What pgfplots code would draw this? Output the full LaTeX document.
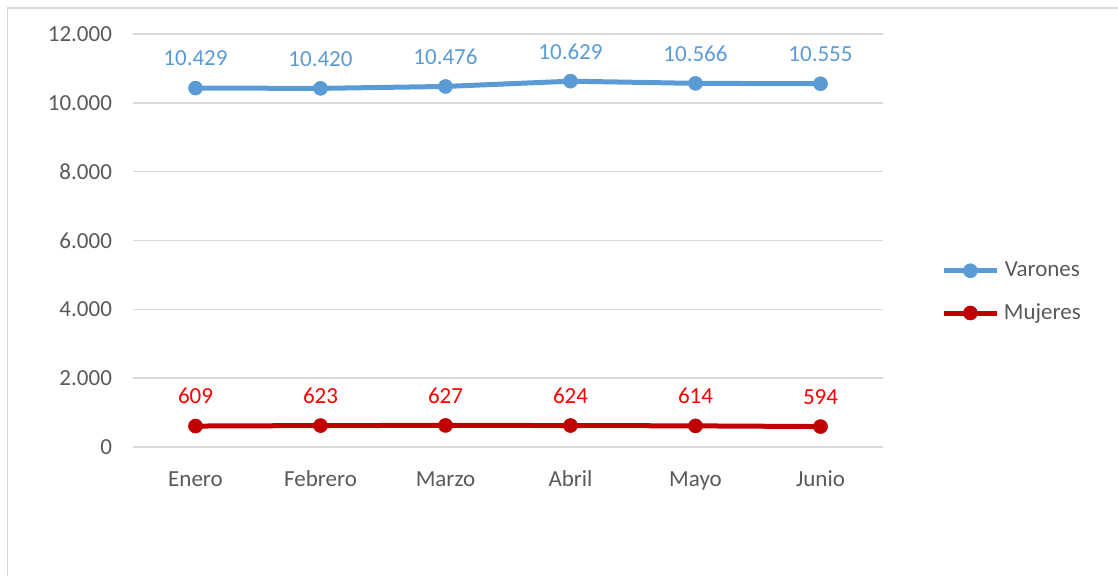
\documentclass[border=0pt]{standalone}
\usepackage{fontspec}
\setmainfont{Carlito}
\usepackage{pgfplots}
\pgfplotsset{compat=1.18}
\definecolor{varblue}{HTML}{5B9BD5}
\definecolor{mujred}{HTML}{C00000}
\definecolor{lblred}{HTML}{FF0000}
\definecolor{gridgray}{HTML}{D9D9D9}
\definecolor{ticktext}{HTML}{595959}

\begin{document}
\begin{tikzpicture}
% 1 px of the reference = 0.5pt
\useasboundingbox (0,0) rectangle (559pt,287.5pt);
\draw[gridgray, line width=0.8pt] (3.75pt,-20pt) -- (3.75pt,283.5pt) -- (600pt,283.5pt);
\begin{axis}[
  at={(66.5pt,64pt)}, anchor=south west,
  scale only axis,
  width=375pt, height=206.5pt,
  xmin=-0.5, xmax=5.5,
  ymin=0, ymax=12000,
  xtick={0,1,2,3,4,5},
  xticklabels={Enero, Febrero, Marzo, Abril, Mayo, Junio},
  ytick={0,2000,4000,6000,8000,10000,12000},
  scaled y ticks=false,
  axis line style={draw=none},
  axis x line*=bottom,
  x axis line style={draw=gridgray, line width=0.8pt},
  tick style={draw=none},
  ymajorgrids,
  grid style={gridgray, line width=0.8pt},
  font=\fontsize{11.5}{13}\selectfont,
  tick label style={text=ticktext},
  xticklabel style={anchor=base, yshift=-19.5pt},
  yticklabel style={xshift=-7pt, /pgf/number format/fixed},
  /pgf/number format/.cd, 1000 sep={.}, assume math mode=true,
  /pgfplots/.cd,
  clip=false,
  legend style={draw=none, fill=none, at={(1.07,0.375)}, anchor=west,
    font=\fontsize{11.5}{13}\selectfont, text=ticktext,
    row sep=8pt, /tikz/every even column/.append style={column sep=0pt}},
  legend image code/.code={
    \draw[#1, mark=none] (0pt,0pt) -- (26.5pt,0pt);
    \draw[#1, only marks] plot coordinates {(13pt,0pt)};
  },
]
\addplot[varblue, line width=2.5pt, mark=*, mark size=3.5pt,
  mark options={line width=0.3pt},
  nodes near coords,
  every node near coord/.append style={text=varblue, yshift=7.5pt}]
  coordinates {(0,10429) (1,10420) (2,10476) (3,10629) (4,10566) (5,10555)};
\addlegendentry{Varones}
\addplot[mujred, line width=2.5pt, mark=*, mark size=3.5pt,
  mark options={line width=0.3pt},
  nodes near coords,
  every node near coord/.append style={text=lblred, yshift=7.5pt}]
  coordinates {(0,609) (1,623) (2,627) (3,624) (4,614) (5,594)};
\addlegendentry{Mujeres}
\end{axis}
\end{tikzpicture}
\end{document}
